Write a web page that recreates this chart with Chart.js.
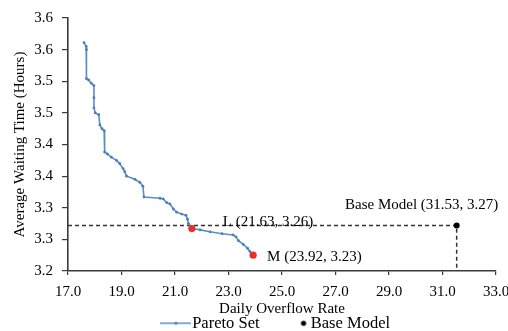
<!DOCTYPE html>
<html>
<head>
<meta charset="utf-8">
<script src="https://cdn.jsdelivr.net/npm/chart.js@4.4.0/dist/chart.umd.min.js"></script>
<style>
html, body { margin: 0; padding: 0; background: #fff; }
#wrap { position: relative; width: 508px; height: 331px; }
</style>
</head>
<body>
<div id="wrap"><canvas id="chart"></canvas></div>
<script>
// pareto front
var paretoX = [17.60, 17.68, 17.69, 17.69, 17.77, 17.87, 17.97, 17.97, 17.97, 18.02, 18.15, 18.19,
    18.27, 18.35, 18.37, 18.47, 18.62, 18.81, 18.93, 19.06, 19.12, 19.19, 19.50, 19.69, 19.80,
    19.84, 20.44, 20.56, 20.69, 20.81, 20.94, 21.06, 21.25, 21.41, 21.47, 21.50, 21.63, 21.94,
    22.31, 22.76, 23.17, 23.28, 23.37, 23.55, 23.71, 23.80, 23.92];
var paretoY = [3.561, 3.555, 3.550, 3.504, 3.502, 3.497, 3.493, 3.474, 3.458, 3.450, 3.447, 3.431,
    3.425, 3.422, 3.388, 3.385, 3.380, 3.375, 3.370, 3.362, 3.357, 3.350, 3.345, 3.340, 3.334,
    3.317, 3.315, 3.314, 3.308, 3.306, 3.298, 3.293, 3.290, 3.288, 3.282, 3.275, 3.267, 3.265,
    3.262, 3.259, 3.257, 3.254, 3.248, 3.242, 3.236, 3.231, 3.225];

// picked solutions L and M
var pickX = [21.63, 23.92];
var pickY = [3.267, 3.225];
var pickLabels = ['L (21.63, 3.26)', 'M (23.92, 3.23)'];

var baseX = [31.53];
var baseY = [3.272];
var baseLabels = ['Base Model (31.53, 3.27)'];

var xTickLabels = ['17.0', '19.0', '21.0', '23.0', '25.0', '27.0', '29.0', '31.0', '33.0'];
var yTickLabels = ['3.2', '3.3', '3.3', '3.4', '3.4', '3.5', '3.5', '3.6', '3.6'];

var serif = '"Liberation Serif", "Times New Roman", serif';
var lineColor = '#5b8ec6';
var axisColor = '#3a3a3a';

Chart.defaults.font.family = serif;
Chart.defaults.font.size = 15;
Chart.defaults.color = '#000';

function toPoints(xs, ys) {
    var out = [];
    for (var i = 0; i < xs.length; i++) out.push({x: xs[i], y: ys[i]});
    return out;
}

// legend swatches, 70px wide, centred on the 32px legend box
function legendImage(kind) {
    var c = document.createElement('canvas');
    c.width = 70;
    c.height = 10;
    var g = c.getContext('2d');
    if (kind == 'line') {
        g.strokeStyle = lineColor;
        g.lineWidth = 1.5;
        g.beginPath();
        g.moveTo(27, 5);
        g.lineTo(58, 5);
        g.stroke();
        g.fillStyle = '#4a7fbf';
        g.beginPath();
        g.arc(43, 5, 1.6, 0, Math.PI * 2);
        g.fill();
    } else {
        g.fillStyle = '#000';
        g.beginPath();
        g.arc(52, 5, 2.6, 0, Math.PI * 2);
        g.fill();
    }
    return c;
}

var labelPlugin = {
    id: 'pointLabels',
    afterDatasetsDraw: function (chart) {
        var ctx = chart.ctx;
        var xs = chart.scales.x, ys = chart.scales.y;
        ctx.save();
        ctx.font = '15px ' + serif;
        ctx.fillStyle = '#000';
        ctx.textBaseline = 'middle';
        ctx.textAlign = 'left';
        ctx.fillText(pickLabels[0], xs.getPixelForValue(pickX[0]) + 31, ys.getPixelForValue(pickY[0]) - 7);
        ctx.fillText(pickLabels[1], xs.getPixelForValue(pickX[1]) + 14, ys.getPixelForValue(pickY[1]) + 2);
        ctx.textAlign = 'center';
        ctx.fillText(baseLabels[0], xs.getPixelForValue(baseX[0]) - 35, ys.getPixelForValue(baseY[0]) - 20);
        ctx.restore();
    }
};

// nudge the legend a little to the left, like the original
var legendShift = {
    id: 'legendShift',
    afterLayout: function (chart) {
        chart.legend.left -= 11;
        chart.legend.right -= 11;
    }
};

var ctx = document.getElementById('chart').getContext('2d');
var myChart = new Chart(ctx, {
    type: 'scatter',
    data: {
        datasets: [{
            label: 'Pareto Set',
            data: toPoints(paretoX, paretoY),
            showLine: true,
            borderColor: lineColor,
            borderWidth: 1.6,
            pointRadius: 1.4,
            pointBackgroundColor: '#4a7fbf',
            pointBorderWidth: 0,
            order: 2
        }, {
            label: 'Base Model',
            data: toPoints(baseX, baseY),
            pointRadius: 3,
            pointBackgroundColor: '#000',
            pointBorderWidth: 0,
            order: 1
        }, {
            label: 'picked',
            data: toPoints(pickX, pickY),
            pointRadius: 3.6,
            pointBackgroundColor: '#e8302a',
            pointBorderWidth: 0,
            order: 0
        }, {
            label: 'guide',
            data: [{x: 17, y: baseY[0]}, {x: baseX[0], y: baseY[0]}, {x: baseX[0], y: 3.2}],
            showLine: true,
            borderColor: '#333',
            borderWidth: 1.5,
            borderDash: [4, 3],
            pointRadius: 0,
            order: 3
        }]
    },
    options: {
        responsive: true,
        maintainAspectRatio: false,
        animation: false,
        layout: {
            padding: {top: 15, left: 0, right: 0, bottom: 0}
        },
        plugins: {
            tooltip: {enabled: false},
            legend: {
                position: 'bottom',
                fullSize: false,
                maxHeight: 27,
                labels: {
                    usePointStyle: true,
                    pointStyleWidth: 32,
                    padding: 11,
                    color: '#000',
                    font: {family: serif, size: 16.5},
                    generateLabels: function (chart) {
                        var ds = chart.data.datasets;
                        return [{
                            text: ds[0].label, pointStyle: legendImage('line'),
                            fillStyle: lineColor, strokeStyle: lineColor, lineWidth: 0,
                            fontColor: '#000', hidden: false, datasetIndex: 0
                        }, {
                            text: ds[1].label, pointStyle: legendImage('dot'),
                            fillStyle: '#000', strokeStyle: '#000', lineWidth: 0,
                            fontColor: '#000', hidden: false, datasetIndex: 1
                        }];
                    }
                }
            }
        },
        scales: {
            x: {
                type: 'linear',
                min: 17,
                max: 33,
                afterFit: function (scale) {
                    scale.height = 33;
                    scale.paddingRight = 12;
                },
                ticks: {
                    stepSize: 2,
                    padding: 8,
                    color: '#000',
                    font: {size: 15},
                    callback: function (v, i) { return xTickLabels[i]; }
                },
                grid: {display: true, drawOnChartArea: false, drawTicks: true, tickLength: 4, color: axisColor, lineWidth: 1.2},
                border: {display: true, color: axisColor, width: 1.6},
                title: {
                    display: true,
                    text: 'Daily Overflow Rate',
                    color: '#000',
                    font: {size: 15},
                    padding: {top: 0, bottom: -14.5}
                }
            },
            y: {
                type: 'linear',
                min: 3.2,
                max: 3.6,
                afterFit: function (scale) {
                    scale.width = 68;
                },
                ticks: {
                    stepSize: 0.05,
                    padding: 9,
                    color: '#000',
                    font: {size: 15},
                    callback: function (v, i) { return yTickLabels[i]; }
                },
                grid: {display: true, drawOnChartArea: false, drawTicks: true, tickLength: 6, color: axisColor, lineWidth: 1.2},
                border: {display: true, color: axisColor, width: 1.6},
                title: {
                    display: true,
                    text: 'Average Waiting Time (Hours)',
                    color: '#000',
                    font: {size: 15},
                    padding: {top: 11, bottom: 5}
                }
            }
        }
    },
    plugins: [labelPlugin, legendShift]
});
</script>
</body>
</html>
